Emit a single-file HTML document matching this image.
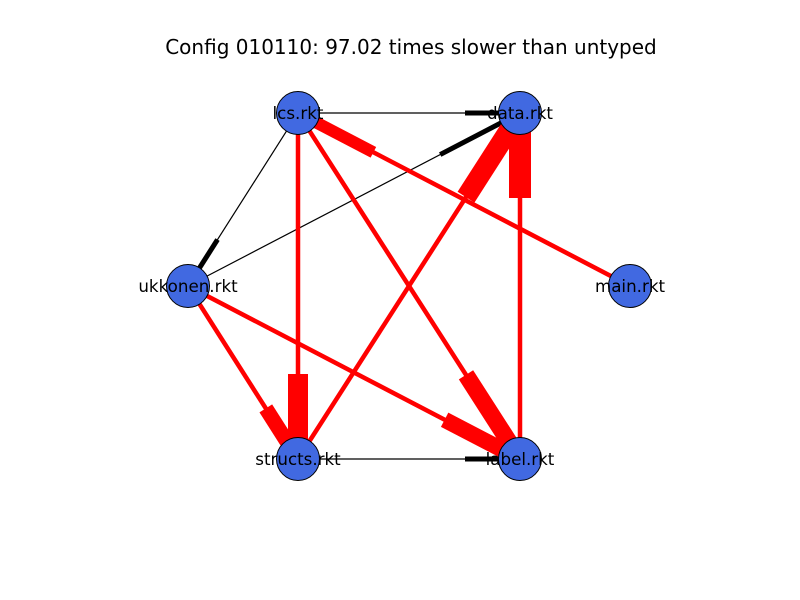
<!DOCTYPE html>
<html><head><meta charset="utf-8"><style>
html,body{margin:0;padding:0;background:#fff}
svg{display:block}
text{font-family:"DejaVu Sans","Liberation Sans",sans-serif}
</style></head><body>
<svg id="c" width="800" height="600">
<text x="411" y="54" font-size="20" text-anchor="middle">Config 010110: 97.02 times slower than untyped</text>
<g id="edges"></g><g id="nodes"></g>
</svg>
<script>
const nodeNames = ["lcs.rkt","data.rkt","ukkonen.rkt","main.rkt","structs.rkt","label.rkt"];
const nodeX = [298,520,188,630,298,520];
const nodeY = [113,113,286,286,459,459];
// edges: source index, target index, kind (0=black typed boundary, 1=red slow boundary), arrow weight
const edgeSrc = [0,0,2,4,3,0,0,2,2,4,5];
const edgeTgt = [1,2,1,5,0,4,5,4,5,1,1];
const edgeKind = [0,0,0,0,1,1,1,1,1,1,1];
const edgeWeight = [5,5,5,5,12,20,17,15,16,20,22];
const edgeArrowLen = [55,55,90,55,85,85,100,60,85,100,85];
const NS="http://www.w3.org/2000/svg";
const eg=document.getElementById('edges'), ng=document.getElementById('nodes');
function mk(t,a,p){const e=document.createElementNS(NS,t);for(const k in a)e.setAttribute(k,a[k]);p.appendChild(e);return e;}
for(let i=0;i<edgeSrc.length;i++){
  const x1=nodeX[edgeSrc[i]],y1=nodeY[edgeSrc[i]],x2=nodeX[edgeTgt[i]],y2=nodeY[edgeTgt[i]];
  const col=edgeKind[i]?'#ff0000':'#000000';
  const l=mk('line',{x1,y1,x2,y2,stroke:col,'stroke-width':edgeKind[i]?4.5:1.2},eg);
  
  
  const d=Math.hypot(x2-x1,y2-y1),L=edgeArrowLen[i];
  const a=mk('line',{x1:x2-(x2-x1)/d*L,y1:y2-(y2-y1)/d*L,x2,y2,stroke:col,'stroke-width':edgeWeight[i]},eg);
  
  
}
for(let i=0;i<nodeNames.length;i++){
  const c=mk('circle',{cx:nodeX[i],cy:nodeY[i],r:21.5,fill:'#4169e1',stroke:'#000','stroke-width':1},ng);
  
  
  const t=mk('text',{x:nodeX[i],y:nodeY[i]+6,'font-size':16.7,'text-anchor':'middle'},ng);
  t.textContent=nodeNames[i];
  
  
}
</script>
</body></html>
